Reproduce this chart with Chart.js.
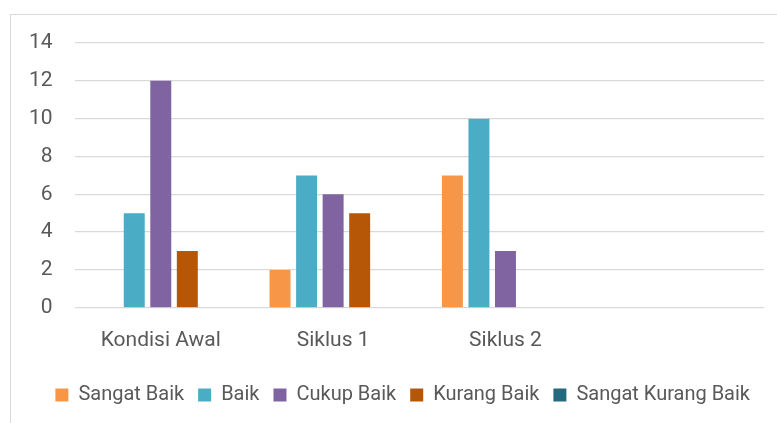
<!DOCTYPE html>
<html>
<head>
<meta charset="utf-8">
<script src="https://cdn.jsdelivr.net/npm/chart.js@4/dist/chart.umd.min.js"></script>
<style>
  body { margin: 0; background: #fff; }
  #wrap { position: relative; width: 777px; height: 423px; overflow: hidden; }
  #frame { position: absolute; left: 10px; top: 14px; width: 800px; height: 500px; border: 1px solid #d9d9d9; }
  #mycanvas { position: absolute; left: 0; top: 0; }
</style>
</head>
<body>
<div id="wrap">
  <div id="frame"></div>
  <canvas id="mycanvas" width="777" height="423"></canvas>
</div>
<script>
var categories = ["Kondisi Awal", "Siklus 1", "Siklus 2", ""];
var sangatBaik = [0, 2, 7, null];
var baik = [5, 7, 10, null];
var cukupBaik = [12, 6, 3, null];
var kurangBaik = [3, 5, 0, null];
var sangatKurangBaik = [0, 0, 0, null];
var yTicks = [0, 2, 4, 6, 8, 10, 12, 14];

var textFont = { family: "Roboto", size: 21 };

var chartdata = {
	labels: categories,
	datasets: [
		{ label: "Sangat Baik", backgroundColor: "#F79646", data: sangatBaik },
		{ label: "Baik", backgroundColor: "#4BACC6", data: baik },
		{ label: "Cukup Baik", backgroundColor: "#8064A2", data: cukupBaik },
		{ label: "Kurang Baik", backgroundColor: "#B65708", data: kurangBaik },
		{ label: "Sangat Kurang Baik", backgroundColor: "#24697D", data: sangatKurangBaik }
	]
};

var ctx = document.getElementById("mycanvas");

var BarGraph = new Chart(ctx, {
	type: 'bar',
	data: chartdata,
	options: {
		responsive: false,
		animation: false,
		layout: { padding: { left: 7, right: 13, top: 43, bottom: 8 } },
		datasets: { bar: { categoryPercentage: 0.77, barPercentage: 0.79 } },
		plugins: {
			tooltip: { enabled: false },
			legend: {
				position: 'bottom',
				align: 'end',
				labels: {
					boxWidth: 13,
					boxHeight: 13,
					padding: 14,
					color: "#595959",
					font: { family: "Roboto", size: 20 }
				}
			}
		},
		scales: {
			x: {
				grid: { display: false },
				border: { display: false },
				ticks: { color: "#595959", padding: 12, font: textFont },
				afterFit: function(axis) {
					// no extra side padding for the first/last label, keep room under the labels
					axis.paddingLeft = 0;
					axis.paddingRight = 0;
					axis.height += 6;
				}
			},
			y: {
				min: yTicks[0],
				max: yTicks[yTicks.length - 1],
				afterBuildTicks: function(axis) {
					axis.ticks = yTicks.map(function(v) { return { value: v }; });
				},
				grid: { color: "#d9d9d9", lineWidth: 1.3, drawTicks: false },
				border: { display: false },
				ticks: { color: "#595959", padding: 22, font: textFont }
			}
		}
	}
});
</script>
</body>
</html>
